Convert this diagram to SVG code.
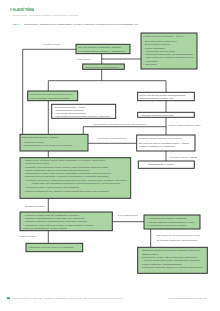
<svg xmlns="http://www.w3.org/2000/svg" width="220" height="311" viewBox="0 0 220 311">
<style>
text{font-family:"Liberation Sans",Arial,sans-serif;fill:#4a4a4a}
.t{font-size:2.1px}
.l{font-size:2.1px;fill:#666}
.g{fill:#abd4a3;stroke:#2a2a2a;stroke-width:0.95}
.w{fill:#fff;stroke:#2a2a2a;stroke-width:0.95}
.c line{stroke:#2a2a2a;stroke-width:0.75}
</style>
<rect width="220" height="311" fill="#fff"/>
<g id="header">
<rect x="10.6" y="7.8" width="0.6" height="3" fill="#555"/>
<text x="12.5" y="10.6" style="font-size:3.2px;font-weight:bold;fill:#2e9a4e">HLAVNÍ TÉMA</text>
<text x="12.5" y="16" style="font-size:2px;fill:#aaa" textLength="66" lengthAdjust="spacingAndGlyphs">Myokarditida – současné poznatky a terapeutické možnosti</text>
<text x="12.5" y="24.8" style="font-size:2.5px;font-weight:bold;fill:#2e9a4e">Obr. 1.</text>
<text x="24" y="24.8" style="font-size:2.4px;fill:#555" textLength="114" lengthAdjust="spacingAndGlyphs">Navrhovaný algoritmus pro diagnostiku a léčbu u pacientů s podezřením na myokarditidu (M)</text>
</g>
<g class="c" id="connectors">
<line x1="22.7" y1="49.3" x2="76" y2="49.3"/>
<line x1="22.7" y1="49.3" x2="22.7" y2="134.3"/>
<line x1="101.7" y1="53.7" x2="101.7" y2="64"/>
<line x1="101.7" y1="59" x2="141" y2="59"/>
<line x1="101.7" y1="69.3" x2="101.7" y2="80.7"/>
<line x1="48.3" y1="80.7" x2="166" y2="80.7"/>
<line x1="48.3" y1="80.7" x2="48.3" y2="91"/>
<line x1="166" y1="80.7" x2="166" y2="92.3"/>
<line x1="48.3" y1="100.7" x2="48.3" y2="134.3"/>
<line x1="166" y1="100.7" x2="166" y2="112.3"/>
<line x1="166" y1="117.3" x2="166" y2="135"/>
<line x1="83.3" y1="126.7" x2="166" y2="126.7"/>
<line x1="83.3" y1="126.7" x2="83.3" y2="134.3"/>
<line x1="88" y1="143.3" x2="136.7" y2="143.3"/>
<line x1="166" y1="151" x2="166" y2="161"/>
<line x1="48.3" y1="151" x2="48.3" y2="157.7"/>
<line x1="48.3" y1="198.3" x2="48.3" y2="212"/>
<line x1="112.3" y1="221.7" x2="144" y2="221.7"/>
<line x1="150.7" y1="229" x2="150.7" y2="247.3"/>
<line x1="48.3" y1="230.7" x2="48.3" y2="243.3"/>
</g>
<g id="labels">
<text class="l" x="43.5" y="45.3">Nestabilní pacient</text>
<text class="l" x="77" y="59.6">Stabilní pacient</text>
<text class="l" x="92.7" y="125.4" textLength="54" lengthAdjust="spacingAndGlyphs">Abnormální výsledky/progrese onemocnění</text>
<text class="l" x="168.5" y="126" textLength="32" lengthAdjust="spacingAndGlyphs">Nízké riziko/stabilní stav</text>
<text class="l" x="96.7" y="138.7" textLength="30" lengthAdjust="spacingAndGlyphs">Abnormální nález/progrese</text>
<text class="l" x="170" y="157.7" textLength="27" lengthAdjust="spacingAndGlyphs">Pozitivní nález v EMB</text>
<text class="l" x="25" y="206.7" textLength="20" lengthAdjust="spacingAndGlyphs">Stabilní stav</text>
<text class="l" x="118" y="216.4" textLength="20" lengthAdjust="spacingAndGlyphs">Při zhoršení</text>
<text class="l" x="157" y="236.4" textLength="43" lengthAdjust="spacingAndGlyphs">Bez odpovědi na imunosupresivní léčbu</text>
<text class="l" x="157" y="240.7" textLength="41" lengthAdjust="spacingAndGlyphs">a trvalá srdeční dysfunkce</text>
<text class="l" x="19" y="236.7" textLength="18" lengthAdjust="spacingAndGlyphs">Úplná remise</text>
</g>
<g id="nA"><rect class="g" x="76" y="44.3" width="54" height="9.4"/>
<text class="t" x="78" y="48.3" textLength="43" lengthAdjust="spacingAndGlyphs">Se zvýšenými ukazateli zánětu</text>
<text class="t" x="78" y="51.7" textLength="47" lengthAdjust="spacingAndGlyphs">při terapii aktivní infekce v anamnéze</text></g>
<g id="nB"><rect class="g" x="141" y="33" width="56" height="36"/>
<text class="t" x="143" y="37" textLength="40" lengthAdjust="spacingAndGlyphs">Klinicky suspektní diagnóza – kritéria</text>
<text class="t" x="143" y="42" textLength="34" lengthAdjust="spacingAndGlyphs">– EKG abnormality typické pro M</text>
<text class="t" x="143" y="45" textLength="27" lengthAdjust="spacingAndGlyphs">– Elevace markerů poškození</text>
<text class="t" x="143" y="48.5" textLength="22" lengthAdjust="spacingAndGlyphs">– Funkční abnormality</text>
<text class="t" x="143" y="51.5" textLength="32" lengthAdjust="spacingAndGlyphs">– Abnormality na MR srdce</text>
<text class="t" x="143" y="55" textLength="50" lengthAdjust="spacingAndGlyphs">– Strukturální abnormality na echokardiografii</text>
<text class="t" x="145.5" y="58" textLength="48" lengthAdjust="spacingAndGlyphs">(edém, pozdní sycení gadoliniem, perikardiální výpotek)</text>
<text class="t" x="145.5" y="61.5" textLength="12" lengthAdjust="spacingAndGlyphs">Horečka</text>
<text class="t" x="143" y="64.7" textLength="14" lengthAdjust="spacingAndGlyphs">– Eozinofilie</text></g>
<g id="nC"><rect class="g" x="82.7" y="64" width="41.6" height="5.3"/>
<text class="t" x="85" y="67.5" textLength="34" lengthAdjust="spacingAndGlyphs">Stanovit klinickou pravděpodobnost M</text></g>
<g id="nD"><rect class="g" x="27.7" y="91" width="50" height="9.7"/>
<text class="t" x="29.5" y="95" textLength="42" lengthAdjust="spacingAndGlyphs">Vysoká klinická pravděpodobnost nebo</text>
<text class="t" x="29.5" y="98.5" textLength="40" lengthAdjust="spacingAndGlyphs">trvalé příznaky srdečního selhání</text></g>
<g id="nE"><rect class="w" x="137.7" y="92.3" width="56.6" height="8.4"/>
<text class="t" x="139.5" y="95.8" textLength="46" lengthAdjust="spacingAndGlyphs">Nízká nebo střední klinická pravděpodobnost</text>
<text class="t" x="139.5" y="99" textLength="34" lengthAdjust="spacingAndGlyphs">a hemodynamicky stabilní stav</text></g>
<g id="nF"><rect class="w" x="51.7" y="104.3" width="64" height="14"/>
<text class="t" x="54" y="108" textLength="32" lengthAdjust="spacingAndGlyphs">Vyloučit jiné příčiny – zvážit:</text>
<text class="t" x="54" y="111.3" textLength="30" lengthAdjust="spacingAndGlyphs">– koronarografii/CT angiografii</text>
<text class="t" x="54" y="114" textLength="32" lengthAdjust="spacingAndGlyphs">– vyšetření autoprotilátek</text>
<text class="t" x="54" y="116.6" textLength="56" lengthAdjust="spacingAndGlyphs">– virologická a mikrobiologická vyšetření, toxikologie</text></g>
<g id="nG"><rect class="w" x="137.7" y="112.3" width="56.6" height="5"/>
<text class="t" x="140" y="115.6" textLength="34" lengthAdjust="spacingAndGlyphs">Ambulantní sledování a MR srdce</text></g>
<g id="nH"><rect class="g" x="20" y="134.3" width="68" height="16.7"/>
<text class="t" x="22" y="138.3" textLength="36" lengthAdjust="spacingAndGlyphs">Endomyokardiální biopsie – indikace</text>
<text class="t" x="22" y="142.5" textLength="22" lengthAdjust="spacingAndGlyphs">– Histologické vyšetření</text>
<text class="t" x="22" y="146.3" textLength="50" lengthAdjust="spacingAndGlyphs">– Imunohistochemie a PCR průkaz virového genomu</text></g>
<g id="nI"><rect class="w" x="136.7" y="135" width="58.3" height="16"/>
<text class="t" x="139" y="139" textLength="43" lengthAdjust="spacingAndGlyphs">Kontrolní vyšetření MR srdce za 3–6 měsíců</text>
<text class="t" x="139" y="143.5" textLength="50" lengthAdjust="spacingAndGlyphs">Bez zánětlivé aktivity a normální funkce – ukončit</text>
<text class="t" x="139" y="146.5" textLength="36" lengthAdjust="spacingAndGlyphs">sledování, standardní péče kardiologem</text></g>
<g id="nJ"><rect class="w" x="138.3" y="161" width="56" height="7.3"/>
<text class="t" x="148" y="165.2" textLength="26" lengthAdjust="spacingAndGlyphs">Pokračovat v léčbě</text></g>
<g id="nK"><rect class="g" x="20" y="157.7" width="110.7" height="40.6"/>
<text class="t" x="23" y="161.2" textLength="82" lengthAdjust="spacingAndGlyphs">– Klidový režim, vyloučení fyzické zátěže (minimálně 3–6 měsíců), zákaz sportu</text>
<text class="t" x="23" y="164.4" textLength="26" lengthAdjust="spacingAndGlyphs">– Kardioprotektivní léčba</text>
<text class="t" x="23" y="167.6" textLength="85" lengthAdjust="spacingAndGlyphs">– Standardní léčba srdečního selhání a arytmií podle současných doporučení ESC</text>
<text class="t" x="23" y="170.8" textLength="66" lengthAdjust="spacingAndGlyphs">– Zvážit implantaci ICD při život ohrožujících arytmiích</text>
<text class="t" x="23" y="174" textLength="88" lengthAdjust="spacingAndGlyphs">– Imunosupresivní léčba u virus-negativní myokarditidy s prokázanou zánětlivou aktivitou</text>
<text class="t" x="23" y="177.3" textLength="86" lengthAdjust="spacingAndGlyphs">– Obrovskobuněčná myokarditida, eozinofilní a granulomatózní myokarditida (sarkoidóza)</text>
<text class="t" x="23" y="180.5" textLength="105" lengthAdjust="spacingAndGlyphs">– Autoimunitní onemocnění: kombinovaná imunosupresivní léčba – kortikosteroidy, azathioprin, cyklosporin A</text>
<text class="t" x="32" y="183.7" textLength="88" lengthAdjust="spacingAndGlyphs">a další podle typu základního onemocnění a histologického nálezu v biopsii myokardu</text>
<text class="t" x="23" y="188" textLength="56" lengthAdjust="spacingAndGlyphs">– Antivirová léčba u virus-pozitivní myokarditidy</text>
<text class="t" x="23" y="192" textLength="86" lengthAdjust="spacingAndGlyphs">– Vyhnout se podávání NSAID, alkoholu a kardiotoxických látek v akutní fázi onemocnění</text></g>
<g id="nL"><rect class="g" x="20" y="212" width="92.3" height="18.7"/>
<text class="t" x="23" y="215.9" textLength="56" lengthAdjust="spacingAndGlyphs">– Pravidelné klinické kontroly a laboratorní vyšetření</text>
<text class="t" x="23" y="219.1" textLength="62" lengthAdjust="spacingAndGlyphs">– Kontrolní echokardiografie a MR srdce za 6–12 měsíců</text>
<text class="t" x="23" y="222.3" textLength="64" lengthAdjust="spacingAndGlyphs">– Postupné vysazování imunosupresivní léčby podle odpovědi</text>
<text class="t" x="23" y="225.5" textLength="70" lengthAdjust="spacingAndGlyphs">– Pokračovat v léčbě srdečního selhání po dobu nejméně 6 měsíců</text>
<text class="t" x="23" y="228.6" textLength="44" lengthAdjust="spacingAndGlyphs">nebo do normalizace funkce komor</text></g>
<g id="nM"><rect class="g" x="144" y="215" width="56" height="14"/>
<text class="t" x="146.5" y="219" textLength="40" lengthAdjust="spacingAndGlyphs">– Mechanická srdeční podpora</text>
<text class="t" x="146.5" y="222.6" textLength="48" lengthAdjust="spacingAndGlyphs">– Zvážit srdeční transplantaci 1. linie</text>
<text class="t" x="146.5" y="225.8" textLength="40" lengthAdjust="spacingAndGlyphs">u refrakterního srdečního selhání</text></g>
<g id="nN"><rect class="g" x="137.7" y="247.3" width="69.6" height="26"/>
<text class="t" x="140" y="251.4" textLength="60" lengthAdjust="spacingAndGlyphs">– Opakovat biopsii myokardu a zhodnotit zánětlivou</text>
<text class="t" x="142" y="254.6" textLength="16" lengthAdjust="spacingAndGlyphs">aktivitu</text>
<text class="t" x="140" y="257.9" textLength="57" lengthAdjust="spacingAndGlyphs">– Pokračovat v léčbě, ICD a CRT podle doporučení</text>
<text class="t" x="142" y="261.2" textLength="58" lengthAdjust="spacingAndGlyphs">– Zvážit implantaci trvalé mechanické podpory</text>
<text class="t" x="142" y="264.5" textLength="40" lengthAdjust="spacingAndGlyphs">nebo srdeční transplantaci</text>
<text class="t" x="140" y="268.2" textLength="63" lengthAdjust="spacingAndGlyphs">– Dlouhodobé sledování pacienta ve specializovaném centru</text></g>
<g id="nO"><rect class="g" x="26" y="243.3" width="56.7" height="8.4"/>
<text class="t" x="28.5" y="248.2" textLength="45" lengthAdjust="spacingAndGlyphs">Vyhodnotit ukončení léčby po 6 měsících</text></g>
<g id="footer">
<rect x="6.8" y="297.3" width="3.2" height="1.8" fill="#3aa35a"/>
<text x="11.7" y="299" style="font-size:1.9px;fill:#999" textLength="111" lengthAdjust="spacingAndGlyphs">KARDIOLOGICKÁ REVUE – INTERNÍ MEDICÍNA | 2015; 17(1): 55–63 / www.kardiologickarevue.cz</text>
<text x="168" y="299" style="font-size:1.9px;fill:#999" textLength="39" lengthAdjust="spacingAndGlyphs">www.kardiologickarevue.cz</text>
</g>
</svg>
